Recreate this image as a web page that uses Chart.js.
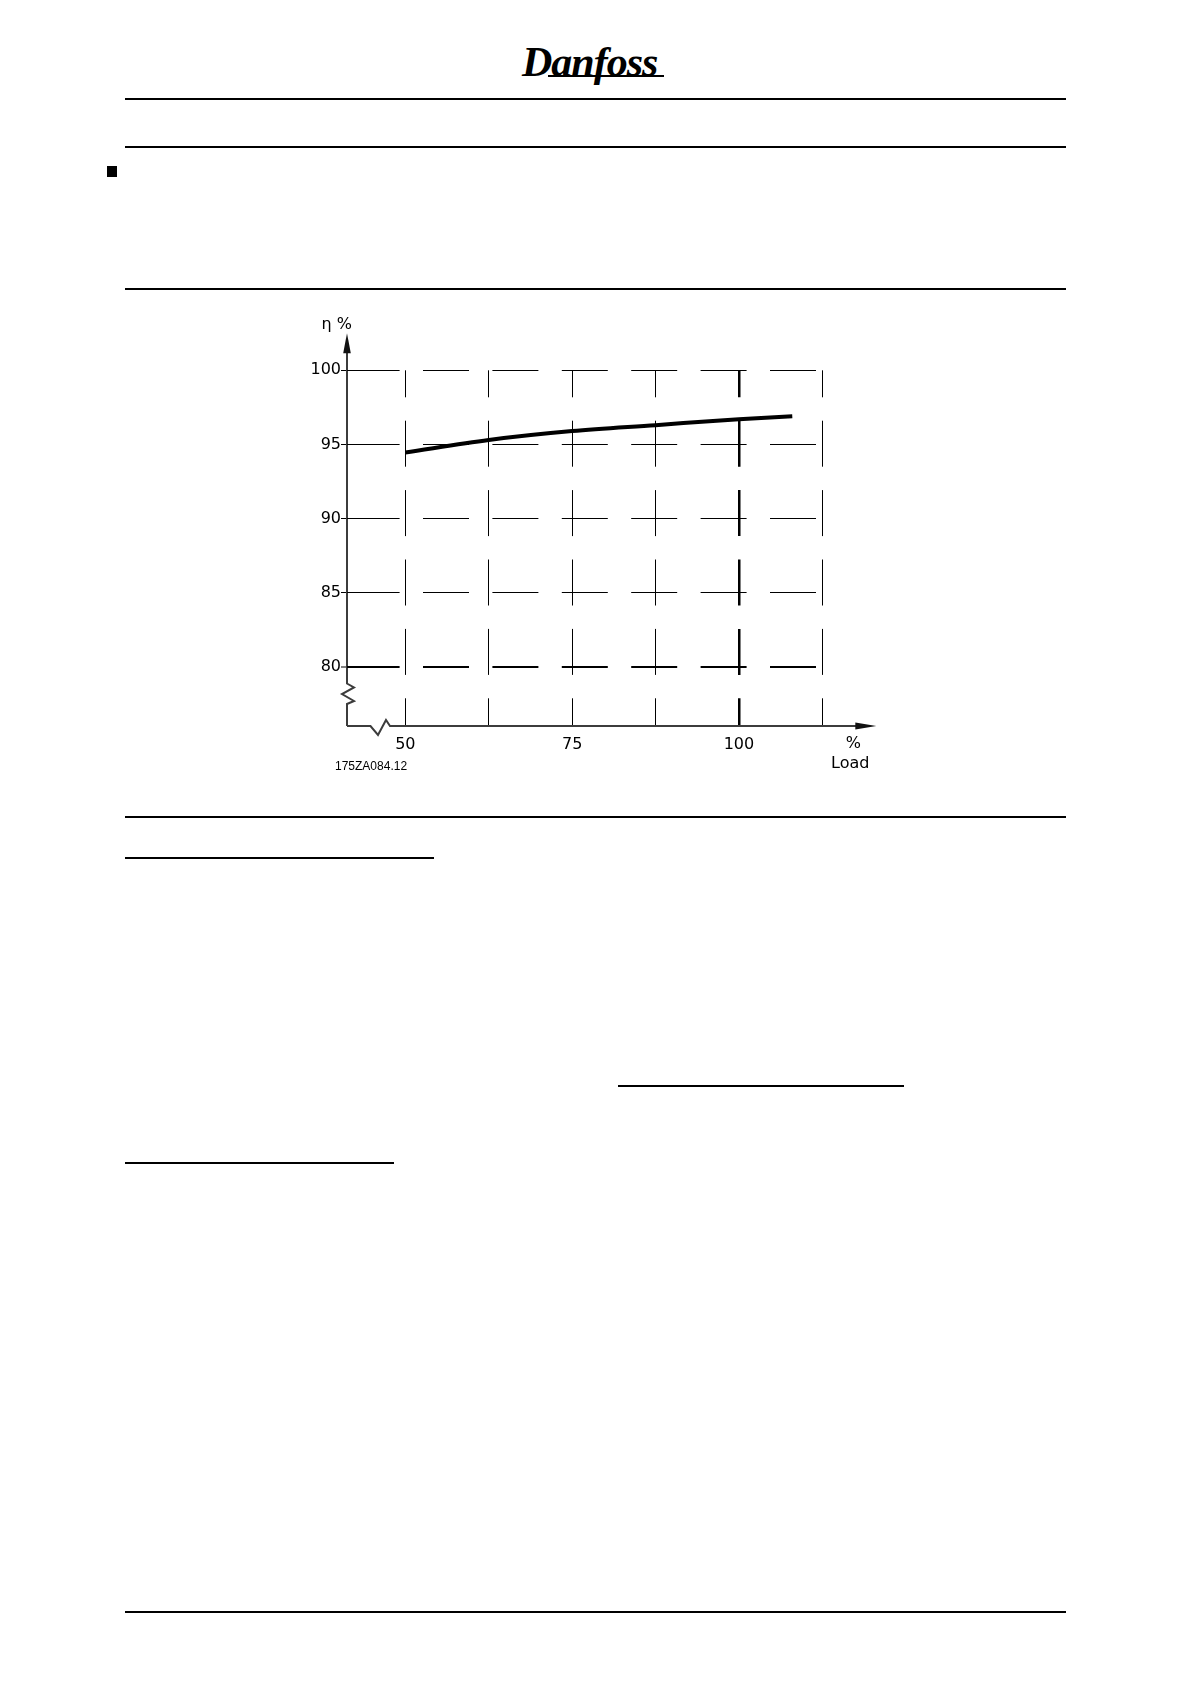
<!DOCTYPE html>
<html lang="en">
<head>
    <meta charset="UTF-8">
    <title>Efficiency vs load</title>

    <!-- chart.js -->
    <script src="https://cdn.jsdelivr.net/npm/chart.js"></script>

    <style>
        body { margin:0; width:1190px; height:1684px; position:relative; background:#fff; font-family:'DejaVu Sans', sans-serif; }
        .rule { position:absolute; height:2px; background:#000; }
        .logo { position:absolute; left:522px; top:38px; font:italic bold 42px 'Liberation Serif', serif; color:#000; letter-spacing:-1px; }
        .logo-line { position:absolute; left:548px; top:75px; width:116px; height:2px; background:#000; }
        .bullet { position:absolute; left:107px; top:166px; width:10px; height:11px; background:#000; }
        #box { position:absolute; left:250px; top:300px; width:650px; height:490px; }
    </style>
</head>
<body>

    <!-- page header -->
    <div class="logo">Danfoss</div>
    <div class="logo-line"></div>
    <div class="rule" style="left:125px; top:98px; width:941px;"></div>
    <div class="rule" style="left:125px; top:146px; width:941px;"></div>
    <div class="bullet"></div>
    <div class="rule" style="left:125px; top:288px; width:941px;"></div>

    <!-- chart -->
    <div id="box"><canvas id="myChart"></canvas></div>

    <!-- page rules under the chart -->
    <div class="rule" style="left:125px; top:816px; width:941px;"></div>
    <div class="rule" style="left:125px; top:857px; width:309px;"></div>
    <div class="rule" style="left:618px; top:1085px; width:286px;"></div>
    <div class="rule" style="left:125px; top:1162px; width:269px;"></div>
    <div class="rule" style="left:125px; top:1611px; width:941px;"></div>

    <script>
        // load (%) and efficiency (%)
        const loadPct = [50, 62.5, 75, 87.5, 100, 108];
        const efficiency = [94.45, 95.3, 95.9, 96.3, 96.7, 96.9];

        // axis ticks
        const xTicks = [50, 62.5, 75, 87.5, 100, 112.5];
        const xLabelled = [50, 75, 100];
        const yTicks = [80, 85, 90, 95, 100];

        const points = loadPct.map((v, i) => ({x: v, y: efficiency[i]}));

        // same pixel snapping as chart.js grid lines
        const align = (p, w) => Math.round(p - w / 2) + w / 2;

        // axes with breaks and arrows, plus small texts
        const axisDecor = {
            id: 'axisDecor',
            afterDraw(chart) {
                const ctx = chart.ctx;
                const a = chart.chartArea;
                const yScale = chart.scales.y;
                const L = a.left, B = a.bottom;

                ctx.save();
                ctx.strokeStyle = '#3c3c3c';
                ctx.fillStyle = '#000';
                ctx.lineWidth = 2;
                ctx.lineJoin = 'miter';

                // y axis (zigzag near the bottom)
                ctx.beginPath();
                ctx.moveTo(L, B);
                ctx.lineTo(L, B - 22);
                ctx.lineTo(L + 7, B - 25);
                ctx.lineTo(L - 5, B - 32);
                ctx.lineTo(L + 7, B - 38.5);
                ctx.lineTo(L, B - 42.5);
                ctx.lineTo(L, a.top - 18);
                ctx.stroke();

                // x axis (zigzag near the left)
                ctx.beginPath();
                ctx.moveTo(L, B);
                ctx.lineTo(L + 23.5, B);
                ctx.lineTo(L + 31, B + 9);
                ctx.lineTo(L + 39, B - 6);
                ctx.lineTo(L + 43, B);
                ctx.lineTo(a.right + 34, B);
                ctx.stroke();

                // arrow heads
                ctx.fillStyle = '#111';
                ctx.beginPath();
                ctx.moveTo(L, a.top - 37);
                ctx.lineTo(L - 3.8, a.top - 17);
                ctx.lineTo(L + 3.8, a.top - 17);
                ctx.closePath();
                ctx.fill();
                ctx.beginPath();
                ctx.moveTo(a.right + 54, B);
                ctx.lineTo(a.right + 33, B - 3.5);
                ctx.lineTo(a.right + 33, B + 3.5);
                ctx.closePath();
                ctx.fill();

                // close the small gap between axis and first grid dash
                ctx.strokeStyle = '#000';
                yTicks.forEach((v) => {
                    const w = v === 80 ? 2 : 1;
                    const py = align(yScale.getPixelForValue(v), w);
                    ctx.lineWidth = w;
                    ctx.beginPath();
                    ctx.moveTo(L, py);
                    ctx.lineTo(L + 8, py);
                    ctx.stroke();
                });

                // labels
                ctx.fillStyle = '#000';
                ctx.font = '16px "DejaVu Sans"';
                ctx.textBaseline = 'middle';
                ctx.textAlign = 'right';
                ctx.fillText('\u03b7 %', L + 5, a.top - 45);
                ctx.textAlign = 'center';
                ctx.fillText('%', a.right + 31, B + 18);
                ctx.fillText('Load', a.right + 28, B + 38);
                ctx.textAlign = 'left';
                ctx.font = '12px "Liberation Sans"';
                ctx.fillText('175ZA084.12', L - 12, B + 41);
                ctx.restore();
            }
        };

        Chart.defaults.font.family = '"DejaVu Sans", sans-serif';
        Chart.defaults.color = '#000';

        var ctx = document.querySelector('#myChart').getContext('2d');

        var myChart = new Chart(ctx, {
            type : 'line',
            data : {
                datasets : [{
                    data : points,
                    borderColor : '#000',
                    borderWidth : 4,
                    pointRadius : 0,
                    cubicInterpolationMode : 'monotone',
                    fill : false
                }]
            },
            options : {
                responsive : true,
                maintainAspectRatio : false,
                animation : false,
                layout : { padding : { left: 47, right: 77.7, top: 70.3, bottom: 34 } },
                plugins : { legend : { display: false }, tooltip : { enabled: false } },
                scales : {
                    x : {
                        type : 'linear',
                        min : 41.25,
                        max : 112.5,
                        afterBuildTicks : (scale) => { scale.ticks = xTicks.map(v => ({value: v})); },
                        afterFit : (scale) => { scale.height = 30; },
                        ticks : {
                            autoSkip : false,
                            maxRotation : 0,
                            padding : 9,
                            font : { size: 16 },
                            callback : (value) => xLabelled.includes(value) ? String(value) : ''
                        },
                        grid : {
                            color : '#000',
                            lineWidth : (c) => c.tick && c.tick.value === 100 ? 2.5 : 1,
                            drawTicks : false
                        },
                        border : { display : false, dash : [46, 23.4], dashOffset : 19 }
                    },
                    y : {
                        min : 76,
                        max : 100,
                        afterBuildTicks : (scale) => { scale.ticks = yTicks.map(v => ({value: v})); },
                        afterFit : (scale) => { scale.width = 50; },
                        ticks : {
                            autoSkip : false,
                            padding : 0,
                            font : { size: 16 }
                        },
                        grid : {
                            color : '#000',
                            lineWidth : (c) => c.tick && c.tick.value === 80 ? 2 : 1,
                            tickColor : '#000',
                            tickLength : 6,
                            tickWidth : 1
                        },
                        border : { display : false, dash : [46, 23.4], dashOffset : 62.8 }
                    }
                }
            },
            plugins : [axisDecor]
        });
    </script>
</body>
</html>
